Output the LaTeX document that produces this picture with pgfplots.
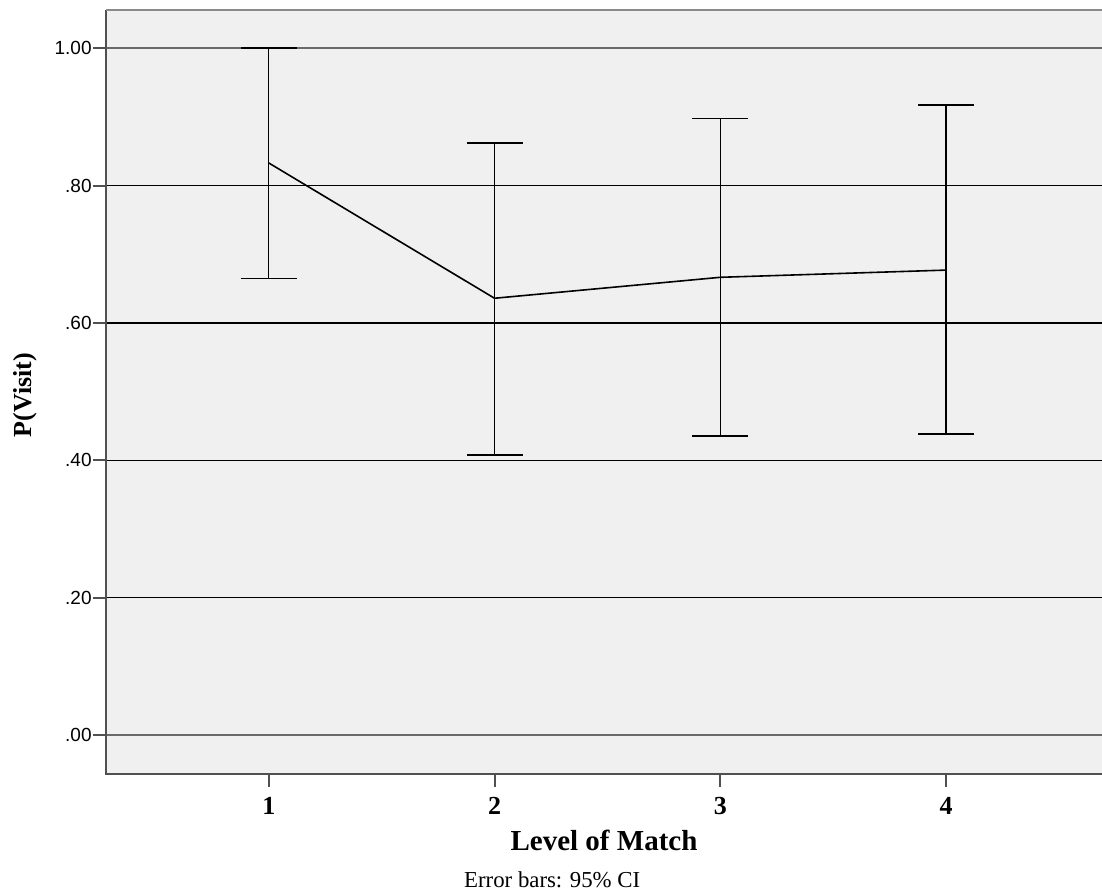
\documentclass[border=0pt]{standalone}
\usepackage{fontspec}
\setmainfont{Liberation Serif}
\setsansfont{Liberation Sans}
\usepackage{pgfplots}
\pgfplotsset{compat=1.18}
\definecolor{bgc}{HTML}{F0F0F0}
\definecolor{spine}{HTML}{505050}
\definecolor{topspine}{HTML}{8A8A8A}
\definecolor{gridg}{HTML}{6A6A6A}
\begin{document}
\begin{tikzpicture}
\begin{axis}[
  at={(0,0)}, anchor=south west,
  scale only axis,
  width=498pt, height=382pt,
  xmin=0.279, xmax=4.691,
  ymin=-0.0568, ymax=1.0558,
  clip=false,
  axis background/.style={fill=bgc},
  axis line style={draw=none},
  tick align=outside,
  major tick length=6.5pt,
  xtick={1,2,3,4},
  xticklabels={1,2,3,4},
  ytick={0,0.2,0.4,0.6,0.8,1.0},
  yticklabels={.00,.20,.40,.60,.80,1.00},
  xtick pos=bottom, ytick pos=left,
  every tick/.style={spine, line width=1pt},
  /pgf/number format/assume math mode=true,
  xticklabel style={font=\fontsize{13}{15}\selectfont\bfseries, yshift=-1.7pt},
  yticklabel style={font=\fontsize{9.5}{11}\selectfont\sffamily, inner sep=0.5pt},
  ymajorgrids,
  major grid style={black, line width=0.6pt},
  extra y ticks={0,1},
  extra y tick labels={},
  extra y tick style={grid=major, major grid style={gridg, line width=1pt}, major tick length=0pt},
  xlabel={Level of Match},
  ylabel={P(Visit)},
  xlabel style={font=\fontsize{14.5}{17}\selectfont\bfseries, at={(axis description cs:0.5,0)}, anchor=center, yshift=-33pt},
  ylabel style={font=\fontsize{13}{15}\selectfont\bfseries, at={(axis description cs:0,0.496)}, anchor=center, yshift=40.5pt},
]
\addplot[black, line width=0.8pt, no marks,
  error bars/.cd, y dir=both, y explicit,
  error bar style={line width=0.65pt, black},
  error mark options={rotate=90, mark size=14pt, line width=0.8pt, black}]
  table[x=x, y=y, y error plus=ep, y error minus=em] {
x y ep em
1 0.833 0.167 0.168
2 0.636 0.2265 0.228
3 0.6665 0.2315 0.2315
4 0.677 0.240 0.239
};
\draw[spine, line width=1pt] (rel axis cs:0,1) -- (rel axis cs:0,0) -- (rel axis cs:1,0);
\draw[topspine, line width=1pt] (rel axis cs:0,1) -- (rel axis cs:1,1);
\node[font=\fontsize{11.4}{13}\selectfont, anchor=center] at (rel axis cs:0.448,0) [yshift=-53pt] {Error bars: 95\% CI};
\end{axis}
\pgfresetboundingbox
\path (-53pt,-59pt) rectangle (498pt,387pt);
\end{tikzpicture}
\end{document}
